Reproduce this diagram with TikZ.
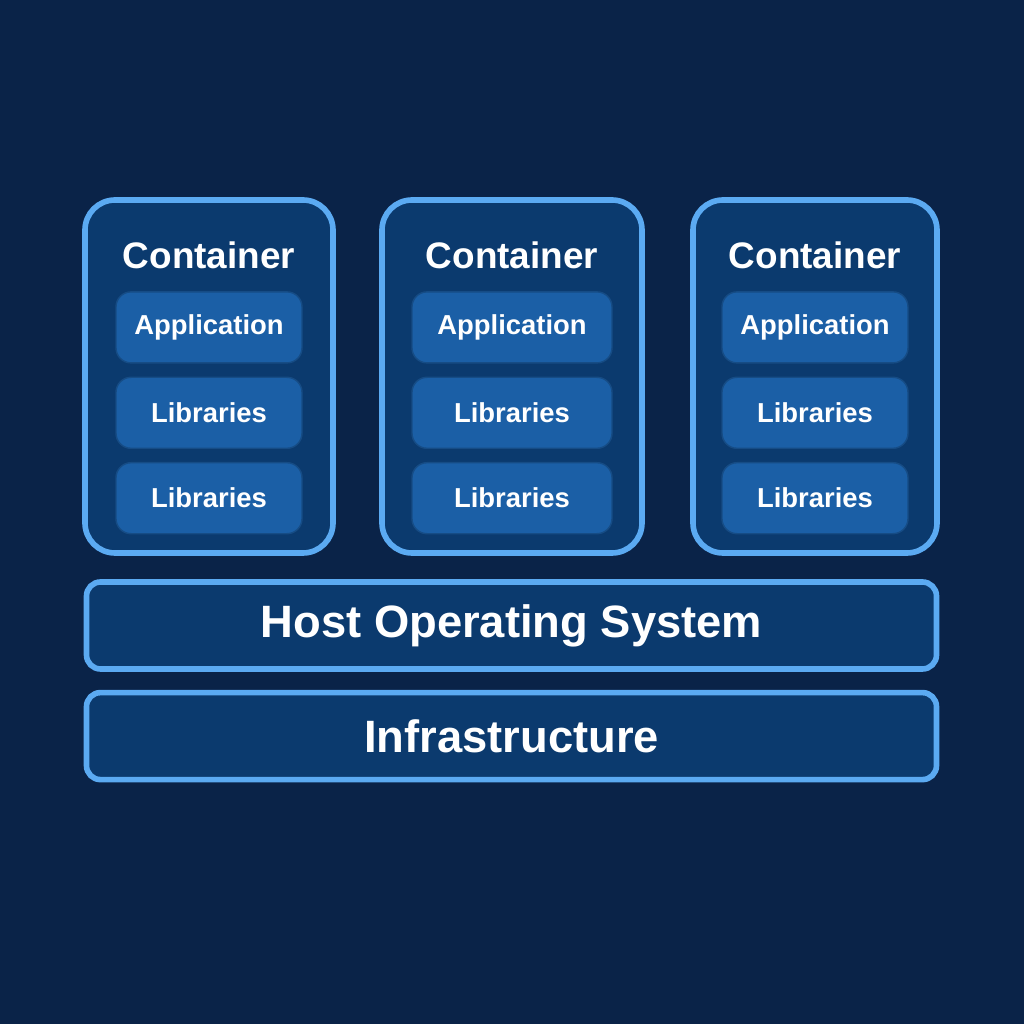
\documentclass[tikz,border=0pt]{standalone}
\usepackage{fontspec}
\setmainfont{Liberation Sans}
\usetikzlibrary{positioning}
\definecolor{bgblue}{HTML}{0A2348}
\definecolor{boxblue}{HTML}{0B3A6E}
\definecolor{edgeblue}{HTML}{5BAAF2}
\definecolor{layerblue}{HTML}{1B5FA6}
\begin{document}
\begin{tikzpicture}[
			font=\bfseries,
			text=white,
			node distance=0.13cm,
			container/.style={rectangle,rounded corners=0.3cm,draw=edgeblue,line width=1.6pt,fill=boxblue,minimum width=2.48cm,minimum height=3.53cm},
			title/.style={font=\fontsize{10.5}{12}\bfseries},
			layer/.style={rectangle,rounded corners=0.15cm,draw=layerblue!80!black,line width=0.4pt,fill=layerblue,minimum width=1.86cm,minimum height=0.71cm,font=\fontsize{7.8}{9}\bfseries},
			base/.style={rectangle,rounded corners=0.14cm,draw=edgeblue,line width=1.6pt,fill=boxblue,minimum width=8.5cm,minimum height=0.87cm,font=\fontsize{12.9}{15}\bfseries},
			]
			\fill [bgblue] (0,0) rectangle (10.24,10.24);
			\useasboundingbox (0,0) rectangle (10.24,10.24);
			% containers
			\node [container] (c1) at (2.09,6.475) {};
			\node [container,minimum width=2.6cm] (c2) at (5.12,6.475) {};
			\node [container,minimum width=2.44cm] (c3) at (8.15,6.475) {};
			\foreach \c/\w in {c1/1.86cm,c2/2cm,c3/1.86cm} {
				\node [title] (\c t) at ([yshift=-0.58cm]\c.north) {Container};
				\node [layer,minimum width=\w,below=0.94cm of \c.north] (\c app) {\raisebox{-0.6pt}{Application}};
				\node [layer,minimum width=\w,below=of \c app] (\c lib) {Libraries};
				\node [layer,minimum width=\w,below=of \c lib] (\c libb) {Libraries};
			}
			% host and infrastructure
			\node [base] (host) at (5.115,3.985) {Host Operating System};
			\node [base,below=0.18cm of host] (infra) {Infrastructure};
		\end{tikzpicture}
\end{document}
